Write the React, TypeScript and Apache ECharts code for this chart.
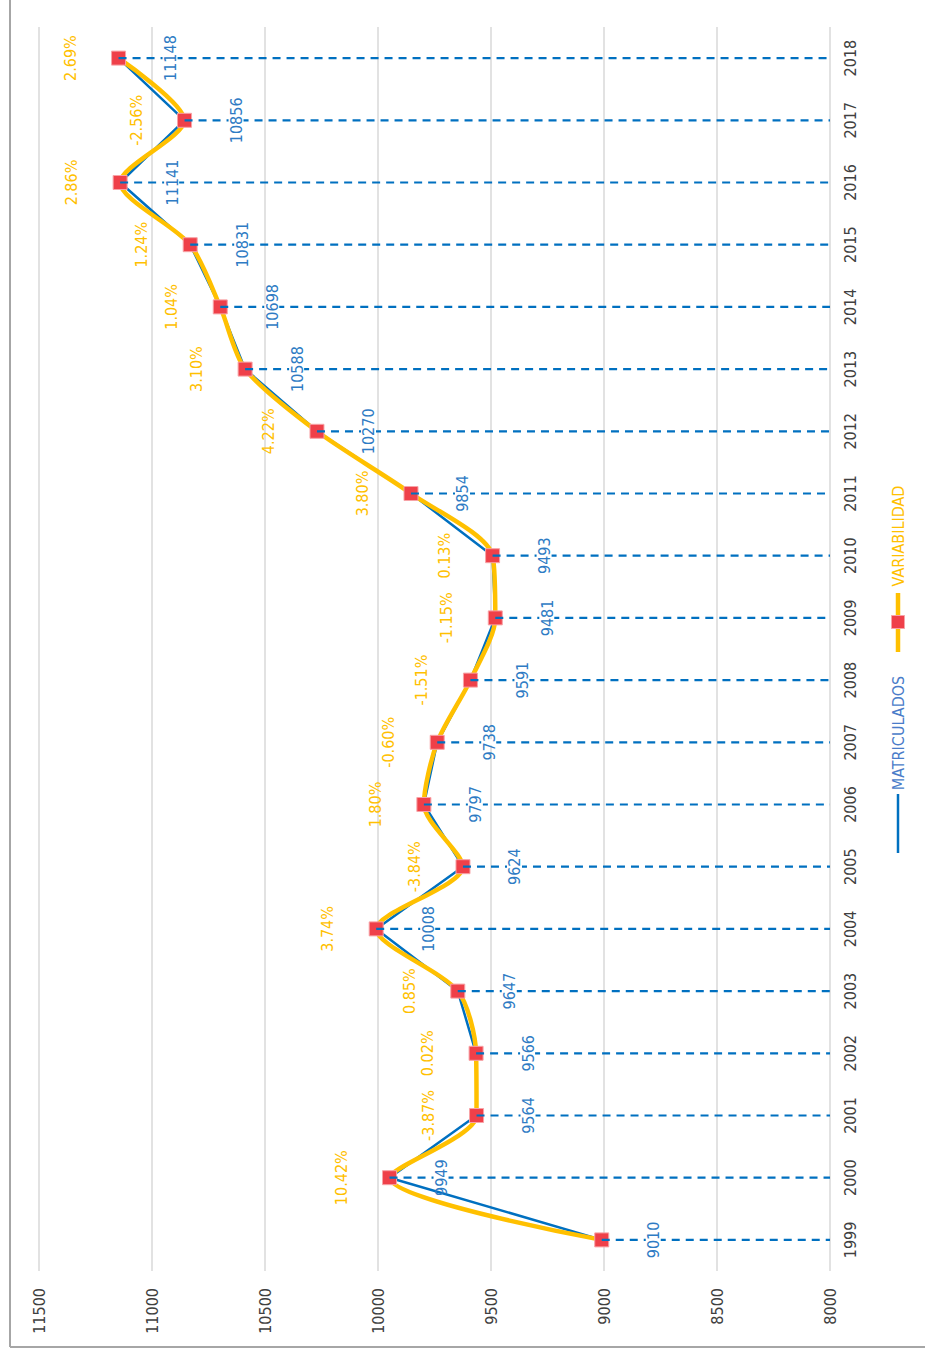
import React, { useEffect, useRef } from "react";
import * as echarts from "echarts";

const years = ["1999","2000","2001","2002","2003","2004","2005","2006","2007","2008","2009","2010","2011","2012","2013","2014","2015","2016","2017","2018"];
const matriculados = [9010, 9949, 9564, 9566, 9647, 10008, 9624, 9797, 9738, 9591, 9481, 9493, 9854, 10270, 10588, 10698, 10831, 11141, 10856, 11148];
const variabilidad: (number | null)[] = [null, 10.42, -3.87, 0.02, 0.85, 3.74, -3.84, 1.80, -0.60, -1.51, -1.15, 0.13, 3.80, 4.22, 3.10, 1.04, 1.24, 2.86, -2.56, 2.69];
const axisMin = 8000;
const axisMax = 11500;
const axisStep = 500;

const FONT = "'DejaVu Sans Condensed', 'Liberation Sans Narrow', 'DejaVu Sans', sans-serif";
const FS = 16;
const BLUE = "#0070C0";
const BLUE_TXT = "#2E7BC4";
const YELLOW = "#FFC000";
const RED = "#EF4049";

export default function App() {
  const ref = useRef<HTMLDivElement>(null);
  useEffect(() => {
    if (!ref.current) return;
    const chart = echarts.init(ref.current, null, { renderer: "svg" });
    const pts = matriculados.map((v, i) => [v, years[i]]);
    chart.setOption({
      animation: false,
      backgroundColor: "#fff",
      grid: { left: 39, right: 95, top: 27, bottom: 83, containLabel: false },
      xAxis: {
        type: "value",
        min: axisMin,
        max: axisMax,
        interval: axisStep,
        inverse: true,
        position: "bottom",
        axisLine: { show: false },
        axisTick: { show: false },
        splitLine: { show: true, lineStyle: { color: "#D9D9D9", width: 1.5 } },
        axisLabel: {
          rotate: 90,
          margin: 17,
          color: "#404040",
          fontSize: FS,
          fontFamily: FONT,
          formatter: (v: number) => String(v),
        },
      },
      yAxis: {
        type: "category",
        data: years,
        position: "right",
        boundaryGap: true,
        axisLine: { show: false },
        axisTick: { show: false },
        splitLine: { show: false },
        axisLabel: { rotate: 90, margin: 12, color: "#404040", fontSize: FS, fontFamily: FONT },
      },
      series: [
        {
          name: "MATRICULADOS",
          type: "line",
          data: pts,
          z: 1,
          smooth: false,
          symbol: "none",
          lineStyle: { color: BLUE, width: 2.5 },
        },
        {
          name: "VARIABILIDAD",
          type: "line",
          data: pts,
          z: 2,
          smooth: 0.27,
          symbol: "rect",
          symbolSize: 14,
          lineStyle: { color: YELLOW, width: 4.5 },
          itemStyle: { color: RED, borderColor: "#F7A3A7", borderWidth: 1 },
          label: {
            show: true,
            position: "left",
            distance: 41,
            rotate: 90,
            align: "center",
            verticalAlign: "middle",
            color: YELLOW,
            fontSize: FS,
            fontFamily: FONT,
            formatter: (p: any) => {
              const v = variabilidad[p.dataIndex];
              return v === null ? "" : v.toFixed(2) + "%";
            },
          },
        },
        {
          name: "drops",
          type: "custom",
          z: 3,
          data: pts,
          renderItem: (params: any, api: any) => {
            const v = api.value(0);
            const c = api.value(1);
            const p = api.coord([v, c]);
            const e = api.coord([axisMin, c]);
            return {
              type: "group",
              children: [
                {
                  type: "line",
                  shape: { x1: p[0], y1: p[1], x2: e[0], y2: e[1] },
                  style: { stroke: BLUE, lineWidth: 2.2, lineDash: [8, 6] },
                },
                {
                  type: "rect",
                  shape: { x: p[0] + 44, y: p[1] - 3, width: 15, height: 6 },
                  style: { fill: "#fff" },
                },
                {
                  type: "text",
                  x: p[0] + 52,
                  y: p[1],
                  rotation: Math.PI / 2,
                  style: {
                    text: String(matriculados[params.dataIndex]),
                    fill: BLUE_TXT,
                    fontSize: FS,
                    fontFamily: FONT,
                    align: "center",
                    verticalAlign: "middle",
                  },
                },
              ],
            };
          },
        },
      ],
      graphic: [
        { type: "line", shape: { x1: 10, y1: 0, x2: 10, y2: 1347 }, style: { stroke: "#A6A6A6", lineWidth: 2 } },
        { type: "line", shape: { x1: 10, y1: 1347, x2: 925, y2: 1347 }, style: { stroke: "#A6A6A6", lineWidth: 2 } },
        { type: "line", shape: { x1: 898, y1: 794, x2: 898, y2: 853 }, style: { stroke: BLUE, lineWidth: 2.5 } },
        {
          type: "text", x: 898, y: 733, rotation: Math.PI / 2,
          style: { text: "MATRICULADOS", fill: "#4A7CC9", fontSize: FS, fontFamily: FONT, align: "center", verticalAlign: "middle" },
        },
        { type: "line", shape: { x1: 898, y1: 593, x2: 898, y2: 652 }, style: { stroke: YELLOW, lineWidth: 4.5 } },
        { type: "rect", shape: { x: 891.5, y: 615.5, width: 13, height: 13 }, style: { fill: RED, stroke: "#F7A3A7", lineWidth: 1 } },
        {
          type: "text", x: 898, y: 536, rotation: Math.PI / 2,
          style: { text: "VARIABILIDAD", fill: YELLOW, fontSize: FS, fontFamily: FONT, align: "center", verticalAlign: "middle" },
        },
      ],
    });
    return () => chart.dispose();
  }, []);
  return <div ref={ref} style={{ position: "absolute", left: 0, top: 0, width: 925, height: 1354 }} />;
}
